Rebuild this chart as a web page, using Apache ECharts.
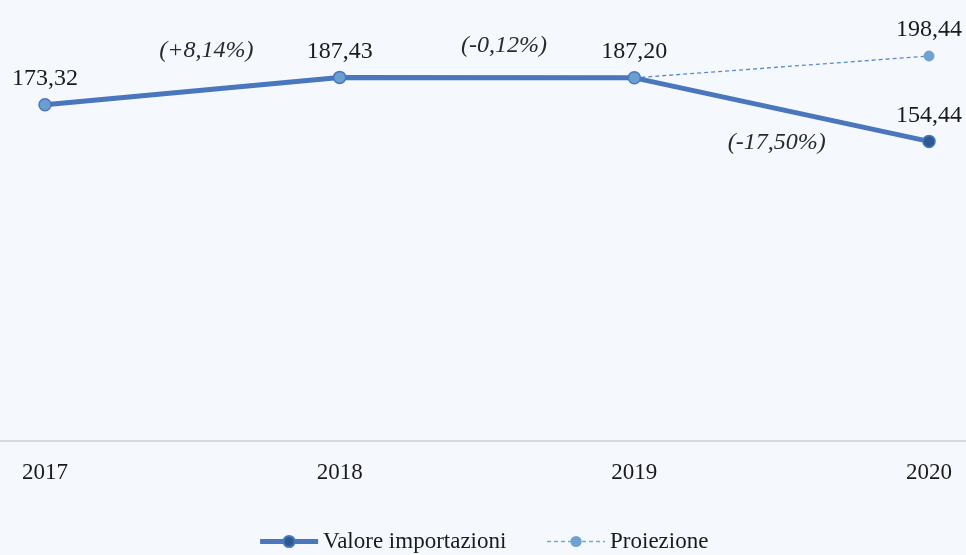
<!DOCTYPE html>
<html>
<head>
    <meta charset="UTF-8">
    <title>Valore importazioni</title>
    <script src="https://cdn.jsdelivr.net/npm/echarts@6/dist/echarts.min.js"></script>
    <style>
        html, body { margin: 0; padding: 0; background: #f5f8fc; }
        #chart { width: 966px; height: 555px; }
    </style>
</head>
<body>
    <div id="chart"></div>
    <script>
        var years = ['2017', '2018', '2019', '2020'];
        var importValues = [173.32, 187.43, 187.20, 154.44];
        var projection = ['-', '-', 187.20, 198.44];
        var changes = ['(+8,14%)', '(-0,12%)', '(-17,50%)'];

        var font = 'Liberation Serif';
        var fmt = function (v) { return v.toFixed(2).replace('.', ','); };

        var chart = echarts.init(document.getElementById('chart'), null, {renderer: 'canvas'});

        var mainData = importValues.map(function (v, i) {
            var item = {value: v};
            if (i < 3) {
                item.itemStyle = {color: '#6b9fd1', borderColor: '#4a78bd', borderWidth: 1.5};
            }
            return item;
        });

        var projData = projection.map(function (v, i) {
            return {value: v, label: {show: i == 3}, symbolSize: i == 3 ? 10 : 0};
        });

        chart.setOption({
            backgroundColor: '#f5f8fc',
            animation: false,
            textStyle: {fontFamily: font},
            grid: {left: 45, right: 37, top: 53, bottom: 114},
            legend: {
                bottom: -3,
                left: 'center',
                itemWidth: 58,
                itemHeight: 14,
                itemGap: 40,
                textStyle: {fontFamily: font, fontSize: 23, color: '#1a1a1a'},
                data: [
                    {name: 'Valore importazioni', lineStyle: {width: 5, color: '#4a76be'}},
                    {name: 'Proiezione', lineStyle: {width: 1.3, color: '#7aa6d8', type: [4, 3]}}
                ]
            },
            xAxis: {
                type: 'category',
                data: years,
                boundaryGap: false,
                axisLine: {show: false},
                axisTick: {show: false},
                axisLabel: {fontFamily: font, fontSize: 23, color: '#1a1a1a', margin: 20}
            },
            yAxis: {
                type: 'value',
                min: 0,
                max: 200,
                show: false,
                splitLine: {show: false}
            },
            series: [
                {
                    name: 'Proiezione',
                    type: 'line',
                    data: projData,
                    z: 3,
                    symbol: 'circle',
                    symbolSize: 10,
                    showSymbol: true,
                    lineStyle: {color: '#5a8bcf', width: 1.3, type: [4, 3]},
                    itemStyle: {color: '#6fa2d2', borderColor: '#6fa2d2'},
                    label: {
                        position: 'top', distance: 9,
                        fontFamily: font, fontSize: 24, color: '#1a1a1a',
                        formatter: function (p) { return fmt(p.value); }
                    }
                },
                {
                    name: 'Valore importazioni',
                    type: 'line',
                    data: mainData,
                    z: 4,
                    symbol: 'circle',
                    symbolSize: 12,
                    lineStyle: {color: '#4a76be', width: 5},
                    itemStyle: {color: '#2c5a8f', borderColor: '#4a76be', borderWidth: 1.5},
                    label: {
                        show: true, position: 'top', distance: 7,
                        fontFamily: font, fontSize: 24, color: '#1a1a1a',
                        formatter: function (p) { return fmt(p.value); }
                    }
                }
            ]
        });

        // baseline across the full width, at the y value 0
        var y0 = chart.convertToPixel({gridIndex: 0}, [0, 0])[1];
        var els = [{
            type: 'line',
            shape: {x1: 0, y1: y0, x2: 966, y2: y0},
            style: {stroke: '#d9d9d9', lineWidth: 2}
        }];

        // percentage change notes placed relative to each segment midpoint
        var offsets = [[14, -40], [17, -32], [-5, 33]];
        changes.forEach(function (t, i) {
            var a = chart.convertToPixel({gridIndex: 0}, [i, importValues[i]]);
            var b = chart.convertToPixel({gridIndex: 0}, [i + 1, importValues[i + 1]]);
            els.push({
                type: 'text',
                x: (a[0] + b[0]) / 2 + offsets[i][0],
                y: (a[1] + b[1]) / 2 + offsets[i][1],
                style: {
                    text: t,
                    fill: '#2a2a2a',
                    font: 'italic 24px "' + font + '"',
                    align: 'center',
                    verticalAlign: 'middle'
                }
            });
        });
        chart.setOption({graphic: els});
    </script>
</body>
</html>
